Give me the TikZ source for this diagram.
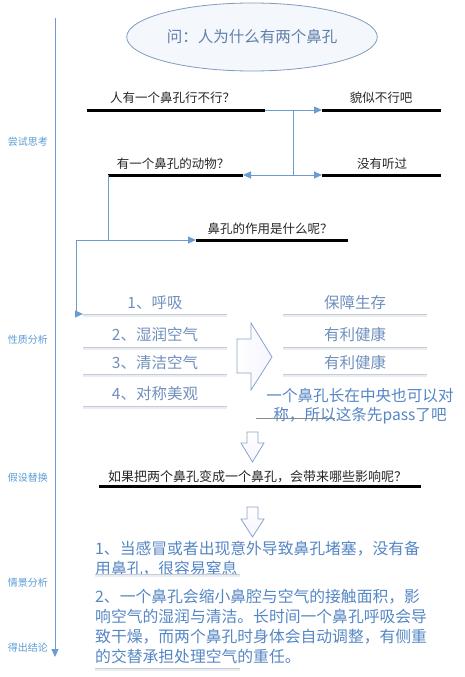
\documentclass[tikz,border=0pt]{standalone}
\usepackage{fontspec}
\setmainfont{Noto Sans CJK SC}
\usetikzlibrary{arrows.meta,shapes.geometric}
\definecolor{conncol}{HTML}{6A9BD1}
\definecolor{sidecol}{HTML}{5B9BD5}
\definecolor{propcol}{HTML}{6F8FBD}
\definecolor{bodycol}{HTML}{5586C4}
\definecolor{thincol}{HTML}{C5CCD6}
\definecolor{shadecol}{HTML}{E9EDF2}
\definecolor{outcol}{HTML}{8AA4C4}
\definecolor{titlecol}{HTML}{5F80AC}
\definecolor{ellcol}{HTML}{7F9DC0}
\definecolor{ellfill}{HTML}{F4F7FB}
\begin{document}
\begin{tikzpicture}[x=1pt,y=-1pt,
  sidelbl/.style={text=sidecol,font=\fontsize{10}{12}\selectfont,inner sep=0},
  qtext/.style={text=black!85,font=\fontsize{12.5}{14}\selectfont,inner sep=0},
  bar/.style={line width=3pt,black},
  connline/.style={draw=conncol,line width=1pt},
  tip/.style={-{Triangle[length=8pt,width=7pt]}},
  ptext/.style={text=propcol,font=\fontsize{15.5}{18}\selectfont,inner sep=0},
  thinline/.style={draw=thincol,line width=0.8pt},
  shadeline/.style={draw=shadecol,line width=2pt},
  hollow/.style={draw=outcol,line width=0.8pt,left color=white,right color=blue!4},
  hollowdown/.style={draw=outcol,line width=0.8pt,top color=white,bottom color=blue!4},
  btext/.style={text=bodycol,font=\fontsize{15.8}{20}\selectfont,inner sep=0,align=left,anchor=west}
]
\useasboundingbox (0,0) rectangle (464,677);

% timeline
\coordinate (tl1) at (55,18);
\coordinate (tl2) at (55,657);
\draw[connline,tip] (tl1) -- (tl2);
\node[sidelbl] (s1) at (28,142) {尝试思考};
\node[sidelbl] (s2) at (28,340) {性质分析};
\node[sidelbl] (s3) at (28,478) {假设替换};
\node[sidelbl] (s4) at (28,583) {情景分析};
\node[sidelbl] (s5) at (28,648) {得出结论};

% title
\node[ellipse,draw=ellcol,line width=0.8pt,fill=ellfill,
      minimum width=212,minimum height=68,text=titlecol,
      font=\fontsize{15.5}{18}\selectfont] (title) at (252,37) {问：人为什么有两个鼻孔};

% question lines
\coordinate (q1a) at (87,110);  \coordinate (q1b) at (265,110);
\coordinate (r1a) at (322,110); \coordinate (r1b) at (441,110);
\coordinate (q2a) at (108,175); \coordinate (q2b) at (243,175);
\coordinate (r2a) at (322,175); \coordinate (r2b) at (441,175);
\coordinate (q3a) at (196,240); \coordinate (q3b) at (348,240);
\draw[bar] (q1a) -- (q1b);
\draw[bar] (r1a) -- (r1b);
\draw[bar] (q2a) -- (q2b);
\draw[bar] (r2a) -- (r2b);
\draw[bar] (q3a) -- (q3b);
\node[qtext] (q1) at (172.5,98) {人有一个鼻孔行不行？};
\node[qtext] (r1) at (381,98) {貌似不行吧};
\node[qtext] (q2) at (173,164) {有一个鼻孔的动物？};
\node[qtext] (r2) at (382,164) {没有听过};
\node[qtext] (q3) at (270,229) {鼻孔的作用是什么呢？};

% connectors
\coordinate (br1) at (293,110);
\coordinate (br2) at (293,175);
\coordinate (lc) at (108,240);
\coordinate (lc2) at (76,240);
\draw[connline,tip] (q1b) -- (r1a);
\draw[connline] (br1) -- (br2);
\draw[connline,tip] (br2) -- (q2b);
\draw[connline,tip] (br2) -- (r2a);
\draw[connline,tip] (q2a) -- (lc) -- (q3a);

% properties
\foreach \y/\n in {314/p1,347/p2,374/p3,406/p4}{
  \coordinate (\n a) at (83,\y); \coordinate (\n b) at (227,\y);
  \draw[shadeline] ([yshift=-1.5pt]\n a) -- ([yshift=-1.5pt]\n b);
  \draw[thinline] (\n a) -- (\n b);
}
\foreach \y/\n in {314/v1,347/v2,374/v3}{
  \coordinate (\n a) at (283,\y); \coordinate (\n b) at (427,\y);
  \draw[shadeline] ([yshift=-1.5pt]\n a) -- ([yshift=-1.5pt]\n b);
  \draw[thinline] (\n a) -- (\n b);
}
\draw[connline,tip] (lc) -- (lc2) |- (p1a);

\node[ptext] (t1) at (155,303) {1、呼吸};
\node[ptext] (t2) at (155,335) {2、湿润空气};
\node[ptext] (t3) at (155,363) {3、清洁空气};
\node[ptext] (t4) at (155,394) {4、对称美观};
\node[ptext] (u1) at (355,303) {保障生存};
\node[ptext] (u2) at (355,335) {有利健康};
\node[ptext] (u3) at (355,363) {有利健康};

% big right arrow
\draw[hollow] (237,339) -- (251,339) -- (251,323) -- (272,357) -- (251,390) -- (251,373) -- (237,373) -- cycle;

% pass note
\coordinate (pna) at (256,418); \coordinate (pnb) at (335,418);
\draw[draw=black!45,line width=0.6pt] (pna) -- (pnb);
\node[text=bodycol,font=\fontsize{15.6}{19}\selectfont,inner sep=0,align=center] (pass) at (360,406.5)
  {一个鼻孔长在中央也可以对\\称，所以这条先pass了吧};

% down arrow 1
\draw[hollowdown] (247,432) -- (258,432) -- (258,443) -- (264,443) -- (252.5,462) -- (241,443) -- (247,443) -- cycle;

% hypothesis line
\coordinate (h1a) at (99,486); \coordinate (h1b) at (421,486);
\draw[bar] (h1a) -- (h1b);
\node[qtext,font=\fontsize{13}{15}\selectfont] (h1) at (257.5,477) {如果把两个鼻孔变成一个鼻孔，会带来哪些影响呢？};

% down arrow 2
\draw[hollowdown] (247,507) -- (258,507) -- (258,519) -- (264,519) -- (252.5,537) -- (241,519) -- (247,519) -- cycle;

% scenario texts
\node[btext] (b1) at (95,559) {1、当感冒或者出现意外导致鼻孔堵塞，没有备\\用鼻孔，很容易窒息};
\coordinate (b1a) at (95,574); \coordinate (b1b) at (240,574);
\draw[shadeline] ([yshift=-1.5pt]b1a) -- ([yshift=-1.5pt]b1b);
\draw[thinline] (b1a) -- (b1b);

\node[btext] (b2) at (95,626) {2、一个鼻孔会缩小鼻腔与空气的接触面积，影\\响空气的湿润与清洁。长时间一个鼻孔呼吸会导\\致干燥，而两个鼻孔时身体会自动调整，有侧重\\的交替承担处理空气的重任。};
\coordinate (b2a) at (95,668); \coordinate (b2b) at (240,668);
\draw[shadeline] ([yshift=-1.5pt]b2a) -- ([yshift=-1.5pt]b2b);
\draw[thinline] (b2a) -- (b2b);
\end{tikzpicture}
\end{document}
